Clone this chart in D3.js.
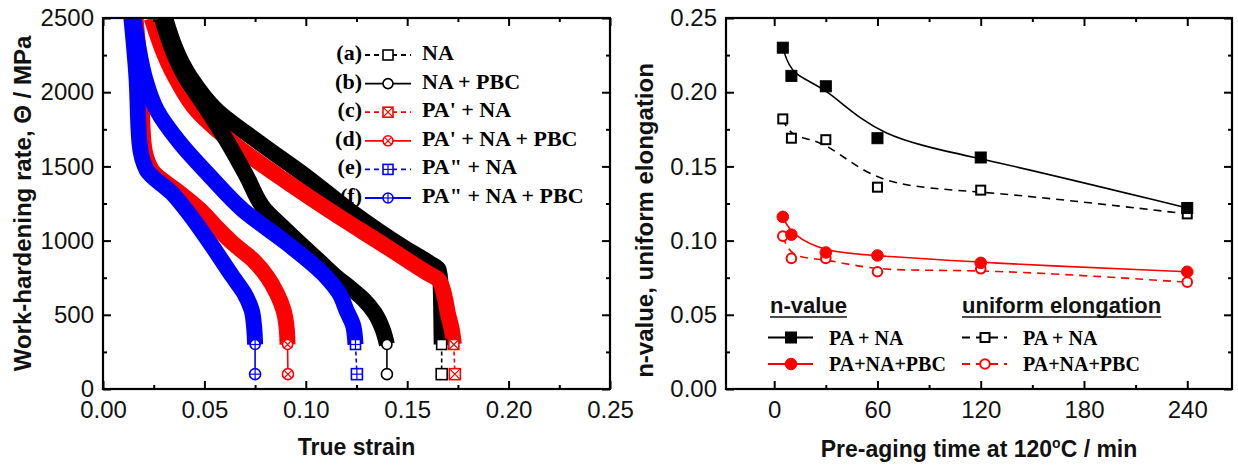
<!DOCTYPE html>
<html><head><meta charset="utf-8">
<script src="https://cdn.jsdelivr.net/npm/d3@7"></script>
<style>
body{margin:0;background:#fff;}
svg{display:block;}
</style></head><body>
<svg id="chart" width="1238" height="468"></svg>
<script>
/* ---------- DATA : left panel (true strain, work-hardening rate MPa) ---------- */
const TAGS  = ["(a)","(b)","(c)","(d)","(e)","(f)"];
const NAMES = ["NA","NA + PBC","PA' + NA","PA' + NA + PBC","PA\" + NA","PA\" + NA + PBC"];
const CURVE_A = [[0.0306,2500],[0.0429,2105],[0.056,1880],[0.0774,1657],[0.1005,1430],[0.122,1200],[0.148,957],[0.161,849],[0.1655,805],[0.1665,700],[0.1668,500],[0.167,300]];
const CURVE_B = [[0.029,2500],[0.0405,2105],[0.049,1930],[0.0617,1657],[0.071,1430],[0.080,1206],[0.088,1100],[0.097,983],[0.106,870],[0.115,756],[0.122,680],[0.128,610],[0.134,512],[0.138,398],[0.140,300]];
const CURVE_C = [[0.024,2500],[0.0355,2105],[0.046,1880],[0.064,1657],[0.087,1430],[0.112,1200],[0.140,957],[0.160,781],[0.1655,735],[0.1685,620],[0.170,512],[0.172,400],[0.173,300]];
const CURVE_D = [[0.0160,2500],[0.0185,2105],[0.0200,1657],[0.0240,1476],[0.038,1320],[0.048,1206],[0.056,1090],[0.064,983],[0.074,869],[0.081,756],[0.0857,645],[0.089,532],[0.0905,420],[0.091,300]];
const CURVE_E = [[0.0150,2500],[0.0175,2300],[0.0205,2105],[0.0265,1880],[0.038,1657],[0.053,1430],[0.069,1206],[0.0906,983],[0.110,756],[0.1165,644],[0.120,532],[0.1235,420],[0.1245,300]];
const CURVE_F = [[0.0140,2500],[0.0165,2105],[0.0180,1657],[0.0215,1476],[0.034,1320],[0.041,1206],[0.0528,983],[0.064,756],[0.0697,644],[0.0733,532],[0.0745,420],[0.075,300]];
const END_X = [0.1670,0.1400,0.1735,0.0912,0.1252,0.0750];   /* strain of the lone end symbol */
const END_V = 100;                                           /* its work-hardening value */
const X_TICKS_L = [0,0.05,0.10,0.15,0.20,0.25];
const Y_TICKS_L = [0,500,1000,1500,2000,2500];

/* ---------- DATA : right panel ---------- */
const TIME = [5,10,30,60,120,240];
const N_PA_NA      = [0.230,0.211,0.204,0.169,0.156,0.122];
const N_PA_NA_PBC  = [0.116,0.104,0.092,0.090,0.085,0.079];
const UE_PA_NA     = [0.182,0.169,0.168,0.136,0.134,0.118];
const UE_PA_NA_PBC = [0.103,0.088,0.088,0.079,0.081,0.072];
const X_TICKS_R = [0,60,120,180,240];
const Y_TICKS_R = [0,0.05,0.10,0.15,0.20,0.25];

/* ---------- CONFIG ---------- */
const LEFT ={x0:103,x1:610,y0:18,y1:389};
const RIGHT={x0:726,x1:1232,y0:18,y1:389};
const SANS="Arial, 'Liberation Sans', sans-serif";
const SERIF="'Times New Roman', 'Liberation Serif', serif";
const RED="#ff0000", BLUE="#0000ff", BLK="#000";
const COL =[BLK,BLK,RED,RED,BLUE,BLUE];
const DASH=[true,false,true,false,true,false];
const MARK=["square","circle","squareX","circleX","squarePlus","circlePlus"];
const BAND_W=16;

const svg=d3.select("#chart");

/* open symbol with optional cross / plus inside */
function symbol(g,type,cx,cy,col,size){
  const r=size/2;
  if(type.startsWith("square"))
    g.append("rect").attr("x",cx-r).attr("y",cy-r).attr("width",size).attr("height",size)
      .attr("fill","#fff").attr("stroke",col).attr("stroke-width",1.6);
  else
    g.append("circle").attr("cx",cx).attr("cy",cy).attr("r",r)
      .attr("fill","#fff").attr("stroke",col).attr("stroke-width",1.6);
  const k=type.startsWith("square")?r:r*0.7;
  if(type.endsWith("X")){
    g.append("line").attr("x1",cx-k).attr("y1",cy-k).attr("x2",cx+k).attr("y2",cy+k).attr("stroke",col).attr("stroke-width",1.2);
    g.append("line").attr("x1",cx-k).attr("y1",cy+k).attr("x2",cx+k).attr("y2",cy-k).attr("stroke",col).attr("stroke-width",1.2);
  }
  if(type.endsWith("Plus")){
    g.append("line").attr("x1",cx-r).attr("y1",cy).attr("x2",cx+r).attr("y2",cy).attr("stroke",col).attr("stroke-width",1.2);
    g.append("line").attr("x1",cx).attr("y1",cy-r).attr("x2",cx).attr("y2",cy+r).attr("stroke",col).attr("stroke-width",1.2);
  }
}

/* frame + inward ticks on all four sides */
function frame(box,x,y,xMaj,xMin,yMaj,yMin,xFmt,yFmt,yPad){
  const g=svg.append("g");
  const ax=(gen,tx,ty,vals,size,fmt,pad)=>{
    const a=g.append("g").attr("transform",`translate(${tx},${ty})`)
      .call(gen.tickValues(vals).tickSize(-size).tickPadding(pad).tickFormat(fmt));
    a.select(".domain").remove();
    a.selectAll("line").attr("stroke","#000").attr("stroke-width",2);
    a.selectAll("text").attr("font-family",SANS).attr("font-size",24).attr("fill","#111");
  };
  ax(d3.axisBottom(x),0,box.y1,xMaj,8,xFmt,12);
  ax(d3.axisBottom(x),0,box.y1,xMin,4,"",0);
  ax(d3.axisTop(x),0,box.y0,xMaj,8,"",0);
  ax(d3.axisTop(x),0,box.y0,xMin,4,"",0);
  ax(d3.axisLeft(y),box.x0,0,yMaj,8,yFmt,yPad);
  ax(d3.axisLeft(y),box.x0,0,yMin,4,"",0);
  ax(d3.axisRight(y),box.x1,0,yMaj,8,"",0);
  ax(d3.axisRight(y),box.x1,0,yMin,4,"",0);
  g.append("rect").attr("x",box.x0).attr("y",box.y0)
    .attr("width",box.x1-box.x0).attr("height",box.y1-box.y0)
    .attr("fill","none").attr("stroke","#000").attr("stroke-width",2.2);
}

/* ---------- LEFT PANEL ---------- */
const xL=d3.scaleLinear().domain([0,0.25]).range([LEFT.x0,LEFT.x1]);
const yL=d3.scaleLinear().domain([0,2500]).range([LEFT.y1,LEFT.y0]);
svg.append("clipPath").attr("id","clipL").append("rect")
  .attr("x",LEFT.x0).attr("y",LEFT.y0).attr("width",LEFT.x1-LEFT.x0).attr("height",LEFT.y1-LEFT.y0);

const curves=[CURVE_A,CURVE_B,CURVE_C,CURVE_D,CURVE_E,CURVE_F];
const bandLine=d3.line().x(d=>xL(d[0])).y(d=>yL(d[1])).curve(d3.curveMonotoneY);
const gL=svg.append("g").attr("clip-path","url(#clipL)");
[0,2,3,1,4,5].forEach(i=>{
  gL.append("path").attr("d",bandLine(curves[i]))
    .attr("fill","none").attr("stroke",COL[i]).attr("stroke-width",BAND_W)
    .attr("stroke-linejoin","round");
});
/* tails: end of band -> lone symbol */
const gT=svg.append("g");
curves.forEach((c,i)=>{
  const last=c[c.length-1];
  gT.append("line").attr("x1",xL(last[0])).attr("y1",yL(last[1]))
    .attr("x2",xL(END_X[i])).attr("y2",yL(END_V))
    .attr("stroke",COL[i]).attr("stroke-width",1.6)
    .attr("stroke-dasharray",DASH[i]?"4,3":null);
  symbol(gT,MARK[i],xL(last[0]),yL(last[1]),COL[i],10);
  symbol(gT,MARK[i],xL(END_X[i]),yL(END_V),COL[i],11);
});

frame(LEFT,xL,yL,X_TICKS_L,d3.range(0.025,0.25,0.05),Y_TICKS_L,d3.range(250,2500,500),
      d3.format(".2f"),d=>d,9);

/* legend */
const lg=svg.append("g");
TAGS.forEach((t,i)=>{
  const y=52+i*28.6;
  lg.append("text").attr("x",362).attr("y",y+8).attr("text-anchor","end")
    .attr("font-family",SERIF).attr("font-weight","bold").attr("font-size",22).text(t);
  lg.append("line").attr("x1",365).attr("x2",411).attr("y1",y+3).attr("y2",y+3)
    .attr("stroke",COL[i]).attr("stroke-width",1.8).attr("stroke-dasharray",DASH[i]?"5,4":null);
  symbol(lg,MARK[i],388,y+3,COL[i],10);
  lg.append("text").attr("x",422).attr("y",y+8)
    .attr("font-family",SERIF).attr("font-weight","bold").attr("font-size",22).text(NAMES[i]);
});

svg.append("text").attr("x",(LEFT.x0+LEFT.x1)/2).attr("y",455).attr("text-anchor","middle")
  .attr("font-family",SANS).attr("font-weight","bold").attr("font-size",23).attr("fill","#111")
  .text("True strain");
svg.append("text").attr("transform",`translate(31,${(LEFT.y0+LEFT.y1)/2}) rotate(-90)`)
  .attr("text-anchor","middle").attr("font-family",SANS).attr("font-weight","bold")
  .attr("font-size",24).attr("fill","#111").text("Work-hardening rate, \u0398 / MPa");

/* ---------- RIGHT PANEL ---------- */
const xR=d3.scaleLinear().domain([-28,266]).range([RIGHT.x0,RIGHT.x1]);
const yR=d3.scaleLinear().domain([0,0.25]).range([RIGHT.y1,RIGHT.y0]);
const fit=d3.line().x(d=>xR(d[0])).y(d=>yR(d[1])).curve(d3.curveBasis);
const zip=v=>TIME.map((t,i)=>[t,v[i]]);

const SERIES_R=[
  {v:UE_PA_NA,     col:BLK, dash:"8,6", mark:"square", fill:false},
  {v:UE_PA_NA_PBC, col:RED, dash:"8,6", mark:"circle", fill:false},
  {v:N_PA_NA,      col:BLK, dash:null,  mark:"square", fill:true},
  {v:N_PA_NA_PBC,  col:RED, dash:null,  mark:"circle", fill:true}
];
const gR=svg.append("g");
function dot(g,s,cx,cy){
  if(s.mark==="square")
    g.append("rect").attr("x",cx-(s.fill?5.5:4.5)).attr("y",cy-(s.fill?5.5:4.5))
      .attr("width",s.fill?11:9).attr("height",s.fill?11:9)
      .attr("fill",s.fill?s.col:"#fff").attr("stroke",s.col).attr("stroke-width",s.fill?1:2);
  else
    g.append("circle").attr("cx",cx).attr("cy",cy).attr("r",s.fill?5.8:4.8)
      .attr("fill",s.fill?s.col:"#fff").attr("stroke",s.col).attr("stroke-width",s.fill?1:2);
}
SERIES_R.forEach(s=>{
  gR.append("path").attr("d",fit(zip(s.v))).attr("fill","none")
    .attr("stroke",s.col).attr("stroke-width",1.6).attr("stroke-dasharray",s.dash);
});
SERIES_R.forEach(s=>zip(s.v).forEach(d=>dot(gR,s,xR(d[0]),yR(d[1]))));

frame(RIGHT,xR,yR,X_TICKS_R,d3.range(30,270,60),Y_TICKS_R,d3.range(0.025,0.25,0.05),
      d=>d,d3.format(".2f"),9);

/* legend */
const lr=svg.append("g");
[["n-value",770],["uniform elongation",962]].forEach(([t,x])=>{
  const tx=lr.append("text").attr("x",x).attr("y",313).attr("font-family",SANS)
    .attr("font-weight","bold").attr("font-size",22).attr("fill","#111").text(t);
  const w=tx.node().getComputedTextLength();
  lr.append("line").attr("x1",x).attr("x2",x+w).attr("y1",317).attr("y2",317)
    .attr("stroke","#111").attr("stroke-width",1.6);
});
const LEG_R=[
  {s:SERIES_R[2],x:768,label:"PA + NA",row:0},
  {s:SERIES_R[3],x:768,label:"PA+NA+PBC",row:1},
  {s:SERIES_R[0],x:962,label:"PA + NA",row:0},
  {s:SERIES_R[1],x:962,label:"PA+NA+PBC",row:1}
];
LEG_R.forEach(e=>{
  const y=337.5+e.row*26.5;
  lr.append("line").attr("x1",e.x).attr("x2",e.x+45).attr("y1",y).attr("y2",y)
    .attr("stroke",e.s.col).attr("stroke-width",1.8).attr("stroke-dasharray",e.s.dash);
  dot(lr,e.s,e.x+23,y);
  lr.append("text").attr("x",e.x+61).attr("y",y+7).attr("font-family",SERIF)
    .attr("font-weight","bold").attr("font-size",20).text(e.label);
});

const xt=svg.append("text").attr("x",(RIGHT.x0+RIGHT.x1)/2).attr("y",457).attr("text-anchor","middle")
  .attr("font-family",SANS).attr("font-weight","bold").attr("font-size",23).attr("fill","#111");
xt.append("tspan").text("Pre-aging time at 120");
xt.append("tspan").attr("dy",-9).attr("font-size",14).text("o");
xt.append("tspan").attr("dy",9).text("C / min");
svg.append("text").attr("transform",`translate(653,${(RIGHT.y0+RIGHT.y1)/2+17}) rotate(-90)`)
  .attr("text-anchor","middle").attr("font-family",SANS).attr("font-weight","bold")
  .attr("font-size",24).attr("fill","#111").text("n-value, uniform elongation");
</script></body></html>
